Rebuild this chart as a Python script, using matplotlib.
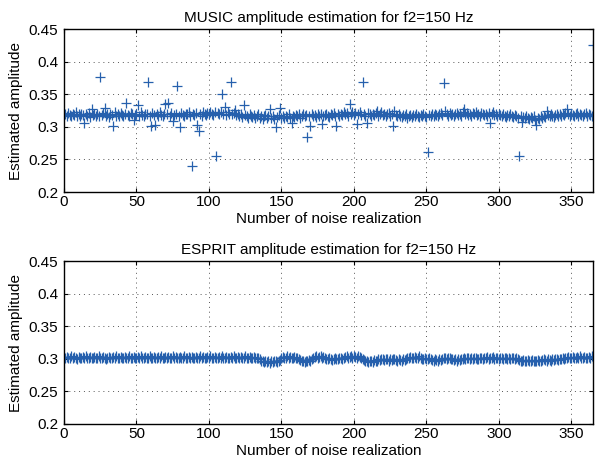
import numpy as np
import matplotlib
matplotlib.use("Agg")
import matplotlib.pyplot as plt

# MUSIC estimates, one per noise realization (1..365)
music_amp = [
    0.319, 0.317, 0.321, 0.318, 0.316, 0.320, 0.318, 0.322, 0.317, 0.319,
    0.316, 0.320, 0.318, 0.306, 0.319, 0.317, 0.321, 0.315, 0.328, 0.318,
    0.320, 0.317, 0.319, 0.316, 0.377, 0.318, 0.321, 0.329, 0.317, 0.319,
    0.315, 0.320, 0.318, 0.302, 0.322, 0.317, 0.319, 0.316, 0.321, 0.318,
    0.317, 0.320, 0.336, 0.318, 0.316, 0.321, 0.319, 0.311, 0.318, 0.320,
    0.333, 0.317, 0.322, 0.318, 0.316, 0.320, 0.319, 0.369, 0.317, 0.302,
    0.321, 0.318, 0.303, 0.320, 0.317, 0.322, 0.318, 0.316, 0.320, 0.335,
    0.319, 0.336, 0.317, 0.321, 0.309, 0.318, 0.320, 0.362, 0.317, 0.300,
    0.321, 0.318, 0.316, 0.320, 0.319, 0.322, 0.317, 0.240, 0.320, 0.318,
    0.321, 0.303, 0.294, 0.319, 0.317, 0.322, 0.320, 0.318, 0.321, 0.319,
    0.323, 0.320, 0.318, 0.322, 0.256, 0.321, 0.319, 0.323, 0.350, 0.320,
    0.331, 0.318, 0.322, 0.320, 0.369, 0.319, 0.321, 0.326, 0.318, 0.320,
    0.317, 0.319, 0.315, 0.333, 0.318, 0.316, 0.314, 0.319, 0.317, 0.315,
    0.318, 0.313, 0.316, 0.319, 0.314, 0.317, 0.312, 0.316, 0.318, 0.313,
    0.316, 0.328, 0.314, 0.317, 0.312, 0.300, 0.315, 0.318, 0.329, 0.314,
    0.316, 0.313, 0.317, 0.315, 0.319, 0.314, 0.306, 0.317, 0.315, 0.318,
    0.316, 0.319, 0.314, 0.317, 0.320, 0.316, 0.318, 0.285, 0.317, 0.302,
    0.319, 0.316, 0.318, 0.315, 0.320, 0.317, 0.319, 0.304, 0.316, 0.318,
    0.320, 0.317, 0.315, 0.319, 0.318, 0.321, 0.316, 0.302, 0.319, 0.317,
    0.320, 0.318, 0.322, 0.319, 0.321, 0.317, 0.335, 0.320, 0.323, 0.318,
    0.321, 0.305, 0.319, 0.322, 0.318, 0.368, 0.320, 0.317, 0.306, 0.321,
    0.319, 0.316, 0.320, 0.318, 0.321, 0.324, 0.317, 0.319, 0.322, 0.318,
    0.320, 0.316, 0.319, 0.321, 0.317, 0.320, 0.302, 0.324, 0.318, 0.316,
    0.319, 0.317, 0.315, 0.318, 0.316, 0.319, 0.314, 0.317, 0.318, 0.315,
    0.318, 0.316, 0.319, 0.317, 0.315, 0.318, 0.316, 0.320, 0.317, 0.315,
    0.261, 0.318, 0.316, 0.319, 0.317, 0.320, 0.318, 0.316, 0.319, 0.321,
    0.318, 0.367, 0.325, 0.319, 0.317, 0.321, 0.318, 0.320, 0.316, 0.319,
    0.321, 0.318, 0.320, 0.317, 0.322, 0.328, 0.319, 0.321, 0.318, 0.320,
    0.317, 0.321, 0.319, 0.322, 0.318, 0.320, 0.317, 0.321, 0.319, 0.318,
    0.320, 0.317, 0.321, 0.306, 0.319, 0.322, 0.318, 0.320, 0.317, 0.319,
    0.318, 0.316, 0.319, 0.317, 0.315, 0.318, 0.316, 0.319, 0.317, 0.315,
    0.318, 0.316, 0.314, 0.256, 0.317, 0.307, 0.315, 0.313, 0.316, 0.314,
    0.312, 0.315, 0.313, 0.316, 0.311, 0.303, 0.314, 0.312, 0.316, 0.314,
    0.317, 0.315, 0.325, 0.318, 0.316, 0.319, 0.317, 0.315, 0.318, 0.320,
    0.317, 0.319, 0.316, 0.320, 0.318, 0.321, 0.328, 0.319, 0.317, 0.320,
    0.318, 0.316, 0.319, 0.321, 0.317, 0.320, 0.318, 0.316, 0.319, 0.321,
    0.317, 0.320, 0.318, 0.316, 0.426,
]

# ESPRIT estimates for the same realizations
esprit_amp = [
    0.302, 0.303, 0.301, 0.302, 0.304, 0.301, 0.303, 0.302, 0.300, 0.303,
    0.302, 0.301, 0.303, 0.302, 0.304, 0.301, 0.302, 0.303, 0.301, 0.302,
    0.303, 0.301, 0.302, 0.304, 0.302, 0.301, 0.303, 0.302, 0.300, 0.302,
    0.303, 0.302, 0.301, 0.303, 0.302, 0.304, 0.301, 0.302, 0.303, 0.301,
    0.302, 0.303, 0.301, 0.302, 0.304, 0.302, 0.301, 0.303, 0.302, 0.301,
    0.303, 0.302, 0.304, 0.301, 0.302, 0.303, 0.301, 0.302, 0.304, 0.302,
    0.301, 0.303, 0.302, 0.301, 0.303, 0.302, 0.304, 0.302, 0.301, 0.303,
    0.302, 0.303, 0.301, 0.302, 0.304, 0.302, 0.303, 0.301, 0.302, 0.303,
    0.301, 0.302, 0.304, 0.302, 0.301, 0.303, 0.302, 0.303, 0.301, 0.302,
    0.303, 0.302, 0.301, 0.304, 0.302, 0.303, 0.301, 0.302, 0.303, 0.302,
    0.304, 0.301, 0.302, 0.303, 0.302, 0.301, 0.303, 0.302, 0.304, 0.301,
    0.302, 0.303, 0.302, 0.301, 0.303, 0.302, 0.304, 0.302, 0.301, 0.303,
    0.302, 0.303, 0.301, 0.302, 0.304, 0.302, 0.301, 0.303, 0.302, 0.301,
    0.303, 0.302, 0.301, 0.302, 0.300, 0.297, 0.296, 0.295, 0.297, 0.295,
    0.296, 0.294, 0.297, 0.295, 0.296, 0.297, 0.295, 0.296, 0.298, 0.301,
    0.303, 0.302, 0.301, 0.304, 0.302, 0.303, 0.301, 0.302, 0.303, 0.301,
    0.302, 0.300, 0.298, 0.297, 0.296, 0.295, 0.297, 0.296, 0.298, 0.297,
    0.299, 0.301, 0.303, 0.304, 0.302, 0.303, 0.305, 0.302, 0.303, 0.301,
    0.300, 0.299, 0.301, 0.300, 0.298, 0.300, 0.301, 0.299, 0.300, 0.302,
    0.301, 0.300, 0.302, 0.303, 0.304, 0.302, 0.303, 0.305, 0.302, 0.304,
    0.303, 0.302, 0.304, 0.303, 0.301, 0.300, 0.298, 0.296, 0.297, 0.295,
    0.296, 0.297, 0.295, 0.298, 0.296, 0.297, 0.299, 0.298, 0.300, 0.299,
    0.298, 0.300, 0.299, 0.297, 0.299, 0.298, 0.300, 0.299, 0.298, 0.297,
    0.299, 0.298, 0.297, 0.299, 0.298, 0.300, 0.301, 0.302, 0.303, 0.301,
    0.302, 0.303, 0.301, 0.302, 0.304, 0.302, 0.300, 0.299, 0.301, 0.300,
    0.299, 0.301, 0.300, 0.298, 0.297, 0.299, 0.298, 0.297, 0.299, 0.298,
    0.300, 0.301, 0.302, 0.300, 0.301, 0.302, 0.300, 0.299, 0.298, 0.300,
    0.297, 0.299, 0.298, 0.300, 0.299, 0.301, 0.300, 0.302, 0.301, 0.300,
    0.301, 0.300, 0.302, 0.301, 0.299, 0.300, 0.302, 0.301, 0.300, 0.302,
    0.301, 0.303, 0.300, 0.302, 0.301, 0.303, 0.300, 0.302, 0.301, 0.300,
    0.302, 0.301, 0.300, 0.302, 0.301, 0.299, 0.301, 0.300, 0.302, 0.301,
    0.300, 0.301, 0.299, 0.298, 0.297, 0.296, 0.298, 0.297, 0.296, 0.298,
    0.297, 0.296, 0.298, 0.297, 0.296, 0.297, 0.298, 0.296, 0.297, 0.298,
    0.299, 0.298, 0.297, 0.299, 0.298, 0.297, 0.299, 0.298, 0.300, 0.299,
    0.298, 0.300, 0.299, 0.301, 0.300, 0.302, 0.301, 0.303, 0.302, 0.301,
    0.303, 0.302, 0.301, 0.303, 0.302, 0.304, 0.301, 0.302, 0.303, 0.302,
    0.301, 0.303, 0.302, 0.304, 0.302,
]

realization = np.arange(1, len(music_amp) + 1)

xticks = [0, 50, 100, 150, 200, 250, 300, 350]
yticks = [0.2, 0.25, 0.3, 0.35, 0.4, 0.45]
ytick_labels = ["0.2", "0.25", "0.3", "0.35", "0.4", "0.45"]

COLOR = "#2660ad"
FS = 11

plt.rcParams["font.family"] = ["Liberation Sans", "DejaVu Sans"]
plt.rcParams["font.size"] = FS

fig = plt.figure(figsize=(5.95, 4.72), dpi=100)

panels = [
    (music_amp, "MUSIC amplitude estimation for f2=150 Hz", [0.1076, 0.5932, 0.889, 0.3453]),
    (esprit_amp, "ESPRIT amplitude estimation for f2=150 Hz", [0.1076, 0.1017, 0.889, 0.3453]),
]

for values, title, rect in panels:
    ax = fig.add_axes(rect)
    ax.plot(realization, values, linestyle="none", marker="+",
            markersize=7, markeredgewidth=0.9, color=COLOR)

    ax.set_xlim(0, 365)
    ax.set_ylim(0.2, 0.45)
    ax.set_xticks(xticks)
    ax.set_yticks(yticks)
    ax.set_yticklabels(ytick_labels)

    ax.grid(True, linestyle=(0, (1, 4)), linewidth=0.7, color="#555555")
    ax.tick_params(direction="in", length=3, width=0.8, top=True, right=True,
                   labelsize=FS)
    ax.tick_params(axis="x", pad=2)
    ax.tick_params(axis="y", pad=4)
    for side in ax.spines.values():
        side.set_linewidth(1.0)

    ax.set_title(title, fontsize=FS, pad=5)
    ax.set_xlabel("Number of noise realization", fontsize=FS, labelpad=2)
    ax.set_ylabel("Estimated amplitude", fontsize=FS, labelpad=4)

fig.savefig("out.png", dpi=100)
